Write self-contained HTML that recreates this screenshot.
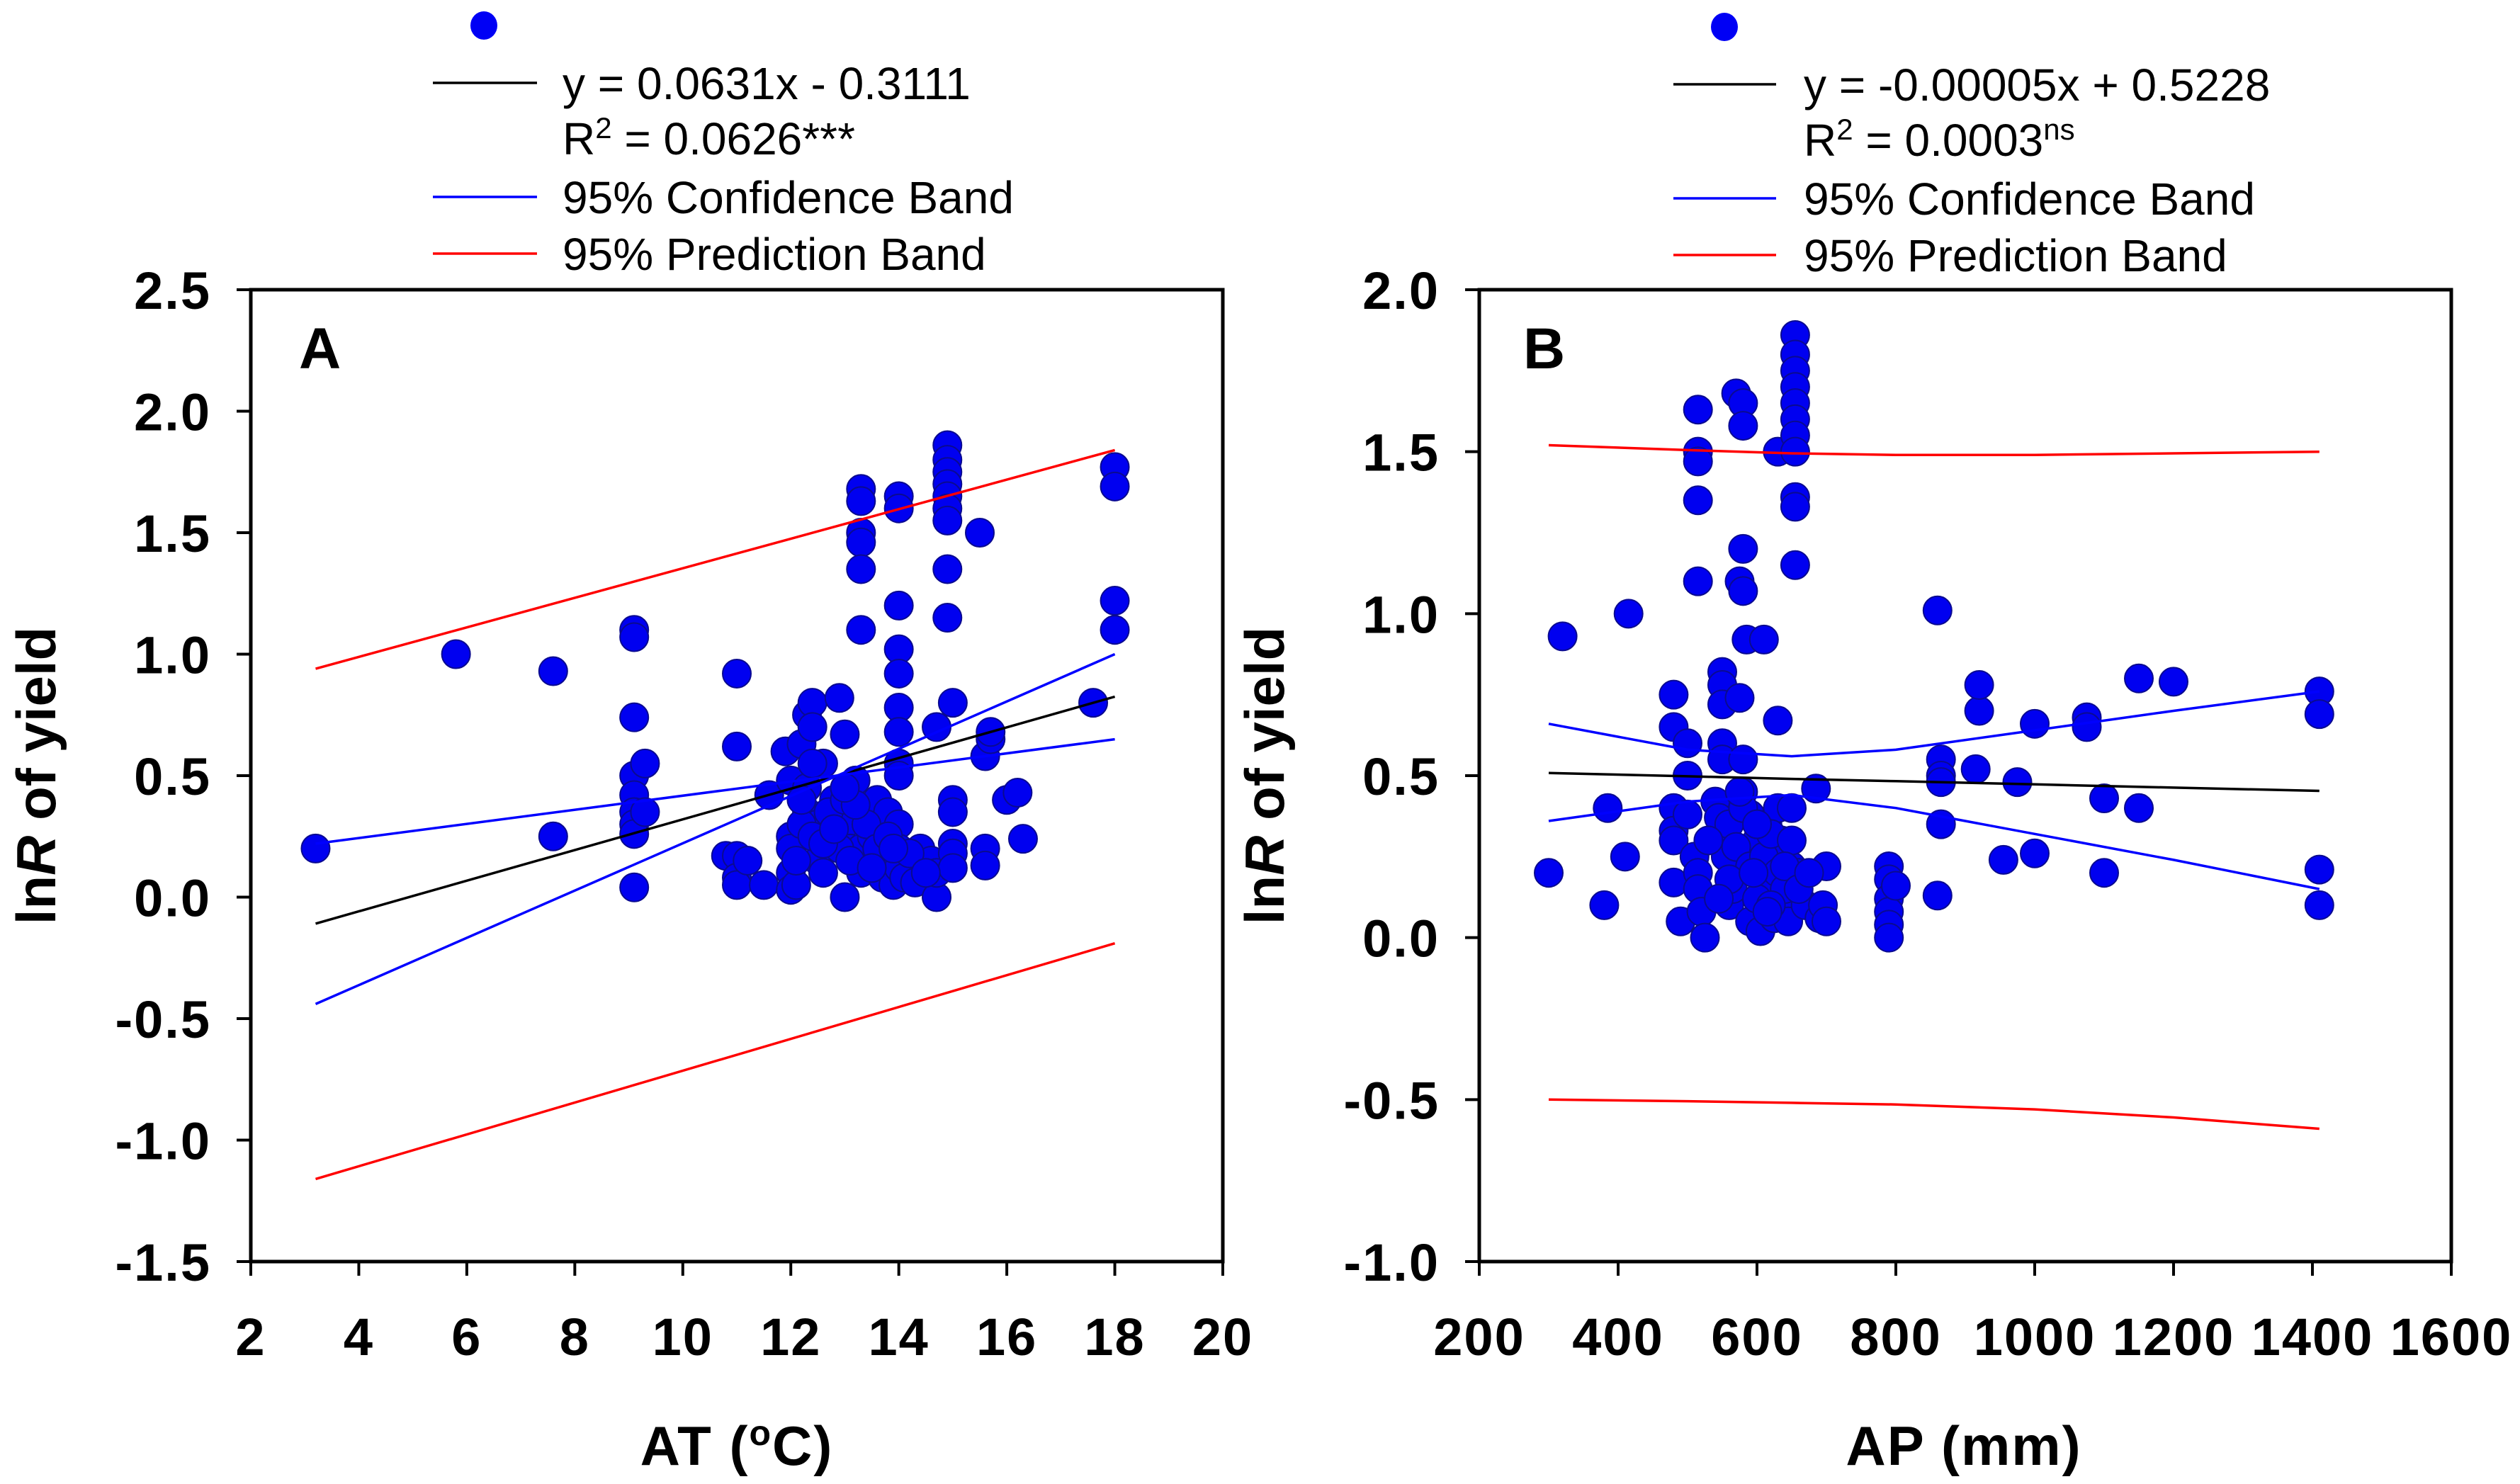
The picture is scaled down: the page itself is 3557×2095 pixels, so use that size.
<!DOCTYPE html>
<html><head><meta charset="utf-8"><style>
html,body{margin:0;padding:0;background:#fff;}
svg{display:block;font-family:"Liberation Sans",Arial,sans-serif;}
</style></head><body>
<svg id="chart" width="3557" height="2095" viewBox="0 0 3557 2095" xmlns="http://www.w3.org/2000/svg">
<g id="panelA"></g>
<g id="panelB"></g>
</svg>
<script>
// ---- Panel A data ----
const aX = [3.2,5.8,7.6,7.6,9.1,9.1,9.1,9.1,9.1,9.1,9.1,9.1,9.1,9.3,9.3,11,11,10.8,11,11,11,11.2,11.5,11.6,11.9,12,12,12,12,12,12.1,12.2,12.3,12.4,12.4,12.3,12.3,12.5,12.5,12.6,12.6,12.8,12.9,13,13,13,13.1,13.2,13.3,13.3,13.3,13.3,13.3,13.3,13.3,13.3,13.5,13.6,13.7,13.7,13.8,13.9,14,14,14,14,14,14,14,14,14,14,14,14,14.1,14.3,14.4,14.6,14.7,14.7,14.7,14.9,14.9,14.9,14.9,14.9,14.9,14.9,14.9,14.9,15,15,15,15,15,15,15.5,15.6,15.6,15.6,15.7,15.7,16,16.2,16.3,17.6,18,18,18,18,12.2,12.4,12.7,12.9,13.1,13.4,13.6,13.8,12.1,12.6,13.0,13.5,14.2,14.5,12.8,13.2,13.9,12.4,12.2,13.0];
const aY = [0.2,1.0,0.93,0.25,1.1,1.07,0.74,0.5,0.42,0.35,0.3,0.26,0.04,0.55,0.35,0.92,0.62,0.17,0.17,0.08,0.05,0.15,0.05,0.42,0.6,0.48,0.25,0.2,0.1,0.03,0.05,0.63,0.75,0.8,0.7,0.45,0.35,0.3,0.15,0.55,0.1,0.4,0.82,0.67,0.3,0.0,0.2,0.48,1.68,1.63,1.5,1.46,1.35,1.1,0.2,0.1,0.25,0.4,0.15,0.08,0.35,0.05,1.65,1.6,1.2,1.02,0.92,0.78,0.68,0.55,0.5,0.3,0.2,0.12,0.08,0.06,0.2,0.15,0.0,0.1,0.7,1.86,1.8,1.75,1.7,1.65,1.6,1.55,1.35,1.15,0.8,0.4,0.35,0.22,0.18,0.12,1.5,0.2,0.13,0.58,0.65,0.68,0.4,0.43,0.24,0.8,1.77,1.69,1.22,1.1,0.3,0.25,0.35,0.2,0.15,0.3,0.2,0.25,0.15,0.22,0.4,0.12,0.18,0.1,0.28,0.38,0.2,0.55,0.4,0.45];
const aLineX = [3.2, 18];
const aFit = [-0.109, 0.825];
const aConf1 = [0.22, 0.65];
const aConf2 = [-0.44, 1.0];
const aPred1 = [0.94, 1.84];
const aPred2 = [-1.16, -0.19];
const aXTicks = [2,4,6,8,10,12,14,16,18,20];
const aYTicks = [-1.5,-1.0,-0.5,0.0,0.5,1.0,1.5,2.0,2.5];

// ---- Panel B data ----
const bX = [300,320,380,385,410,415,480,480,480,480,480,480,490,500,500,500,510,515,515,515,515,515,515,515,520,525,540,545,550,550,550,550,550,555,555,560,565,570,575,575,580,580,580,580,580,580,585,590,590,600,600,605,610,615,620,625,630,630,630,635,640,645,650,650,655,655,655,655,655,655,655,655,655,655,655,660,670,685,690,695,700,700,790,790,790,790,790,790,800,860,860,865,865,865,865,915,920,920,955,975,1000,1000,1075,1075,1100,1100,1150,1150,1200,1410,1410,1410,1410,560,570,590,600,610,620,630,640,650,560,580,600,620,640,530,545,575,595,615,660,675];
const bY = [0.2,0.93,0.1,0.4,0.25,1.0,0.75,0.65,0.4,0.33,0.3,0.17,0.05,0.6,0.5,0.38,0.25,1.63,1.5,1.47,1.35,1.1,0.2,0.15,0.08,0.0,0.42,0.37,0.82,0.78,0.72,0.6,0.55,0.3,0.25,0.1,0.15,1.68,1.1,0.74,1.65,1.58,1.2,1.07,0.55,0.45,0.92,0.38,0.05,0.3,0.2,0.02,0.92,0.35,0.15,0.06,1.5,0.67,0.4,0.3,0.1,0.05,0.4,0.22,1.86,1.8,1.75,1.7,1.65,1.6,1.55,1.5,1.36,1.33,1.15,0.2,0.1,0.46,0.06,0.1,0.22,0.05,0.22,0.18,0.12,0.08,0.04,0.0,0.16,1.01,0.13,0.55,0.5,0.48,0.35,0.52,0.7,0.78,0.24,0.48,0.66,0.26,0.68,0.65,0.43,0.2,0.8,0.4,0.79,0.76,0.69,0.21,0.1,0.35,0.28,0.22,0.12,0.25,0.32,0.2,0.15,0.3,0.18,0.4,0.35,0.1,0.22,0.3,0.12,0.45,0.2,0.08,0.15,0.2];
const bLineX = [300,500,650,800,1000,1200,1410];
const bFit = [0.508,0.498,0.490,0.483,0.473,0.463,0.453];
const bConfU = [0.66,0.58,0.56,0.58,0.64,0.70,0.76];
const bConfL = [0.36,0.42,0.44,0.40,0.32,0.24,0.15];
const bPredU = [1.52,1.505,1.495,1.49,1.49,1.495,1.50];
const bPredL = [-0.50,-0.505,-0.51,-0.515,-0.53,-0.555,-0.59];
const bXTicks = [200,400,600,800,1000,1200,1400,1600];
const bYTicks = [-1.0,-0.5,0.0,0.5,1.0,1.5,2.0];

const NS = "http://www.w3.org/2000/svg";
function mk(parent, tag, attrs, text){
  const el = document.createElementNS(NS, tag);
  for (const k in attrs) el.setAttribute(k, attrs[k]);
  if (text !== undefined) el.textContent = text;
  parent.appendChild(el);
  return el;
}

function drawPanel(g, cfg){
  const {L,R,T,B,xmin,xmax,ymin,ymax} = cfg;
  const sx = v => L + (v - xmin) / (xmax - xmin) * (R - L);
  const sy = v => B - (v - ymin) / (ymax - ymin) * (B - T);

  const pts = mk(g, 'g', {});
  
  
  cfg.px.forEach((x, i) => {
    const c = mk(pts, 'ellipse', {cx: sx(x), cy: sy(cfg.py[i]), rx: 20, ry: 20, fill: '#0000f0', stroke: '#0a0a90', 'stroke-width': 2});
    
    
  });

  function line(ys, color, name){
    const d = cfg.lx.map((x, i) => (i ? 'L' : 'M') + sx(x).toFixed(1) + ' ' + sy(ys[i]).toFixed(1)).join(' ');
    const p = mk(g, 'path', {d, fill: 'none', stroke: color, 'stroke-width': 3.5});
    
    
  }
  line(cfg.fit, '#000', 'regression-line');
  cfg.conf.forEach(c => line(c, '#0000ff', 'confidence-band'));
  cfg.pred.forEach(c => line(c, '#ff0000', 'prediction-band'));

  const fr = mk(g, 'rect', {x: L, y: T, width: R - L, height: B - T, fill: 'none', stroke: '#000', 'stroke-width': 5});
  
  

  cfg.xt.forEach(v => {
    const x = sx(v);
    const t = mk(g, 'line', {x1: x, x2: x, y1: B, y2: B + 20, stroke: '#000', 'stroke-width': 4});
    
    
    const lb = mk(g, 'text', {x: x, y: 1913, 'text-anchor': 'middle', 'font-size': 74, 'font-weight': 'bold', 'letter-spacing': 2}, String(v));
    
    
  });
  cfg.yt.forEach(v => {
    const y = sy(v);
    const t = mk(g, 'line', {x1: L - 20, x2: L, y1: y, y2: y, stroke: '#000', 'stroke-width': 4});
    
    
    const lb = mk(g, 'text', {x: L - 56, y: y + 27, 'text-anchor': 'end', 'font-size': 74, 'font-weight': 'bold', 'letter-spacing': 2}, v.toFixed(1));
    
    
  });
}

const gA = document.getElementById('panelA');
drawPanel(gA, {L:354,R:1726,T:409,B:1781,xmin:2,xmax:20,ymin:-1.5,ymax:2.5,
  px:aX, py:aY, lx:aLineX, fit:aFit, conf:[aConf1,aConf2], pred:[aPred1,aPred2], xt:aXTicks, yt:aYTicks});
const gB = document.getElementById('panelB');
drawPanel(gB, {L:2088,R:3460,T:409,B:1781,xmin:200,xmax:1600,ymin:-1.0,ymax:2.0,
  px:bX, py:bY, lx:bLineX, fit:bFit, conf:[bConfU,bConfL], pred:[bPredU,bPredL], xt:bXTicks, yt:bYTicks});
</script>
<script>
(function(){
  const svg = document.getElementById('chart');
  svg.insertAdjacentHTML('beforeend', `
  <text x="422" y="520" font-size="82" font-weight="bold">A</text>
  <text x="2150" y="520" font-size="82" font-weight="bold">B</text>
  <text x="1040" y="2068" text-anchor="middle" font-size="78" font-weight="bold" letter-spacing="2">AT (<tspan baseline-shift="super" font-size="50">o</tspan>C)</text>
  <text x="2772" y="2068" text-anchor="middle" font-size="78" font-weight="bold" letter-spacing="2">AP (mm)</text>
  <text transform="translate(78,1095) rotate(-90)" text-anchor="middle" font-size="78" font-weight="bold">ln<tspan font-style="italic">R</tspan> of yield</text>
  <text transform="translate(1812,1095) rotate(-90)" text-anchor="middle" font-size="78" font-weight="bold">ln<tspan font-style="italic">R</tspan> of yield</text>

  <g font-size="64">
    <ellipse cx="683" cy="36" rx="19" ry="20" fill="#0000f5"/>
    <line x1="611" x2="758" y1="117" y2="117" stroke="#000" stroke-width="3.5"/>
    <text x="794" y="140">y = 0.0631x - 0.3111</text>
    <text x="794" y="218">R<tspan baseline-shift="super" font-size="42">2</tspan> = 0.0626***</text>
    <line x1="611" x2="758" y1="278" y2="278" stroke="#0000ff" stroke-width="3.5"/>
    <text x="794" y="301">95% Confidence Band</text>
    <line x1="611" x2="758" y1="358" y2="358" stroke="#ff0000" stroke-width="3.5"/>
    <text x="794" y="381">95% Prediction Band</text>
  </g>
  <g font-size="64">
    <ellipse cx="2434" cy="38" rx="19" ry="20" fill="#0000f5"/>
    <line x1="2362" x2="2507" y1="119" y2="119" stroke="#000" stroke-width="3.5"/>
    <text x="2546" y="142">y = -0.00005x + 0.5228</text>
    <text x="2546" y="220">R<tspan baseline-shift="super" font-size="42">2</tspan> = 0.0003<tspan baseline-shift="super" font-size="42">ns</tspan></text>
    <line x1="2362" x2="2507" y1="280" y2="280" stroke="#0000ff" stroke-width="3.5"/>
    <text x="2546" y="303">95% Confidence Band</text>
    <line x1="2362" x2="2507" y1="360" y2="360" stroke="#ff0000" stroke-width="3.5"/>
    <text x="2546" y="383">95% Prediction Band</text>
  </g>`);
})();
</script>
</body></html>
